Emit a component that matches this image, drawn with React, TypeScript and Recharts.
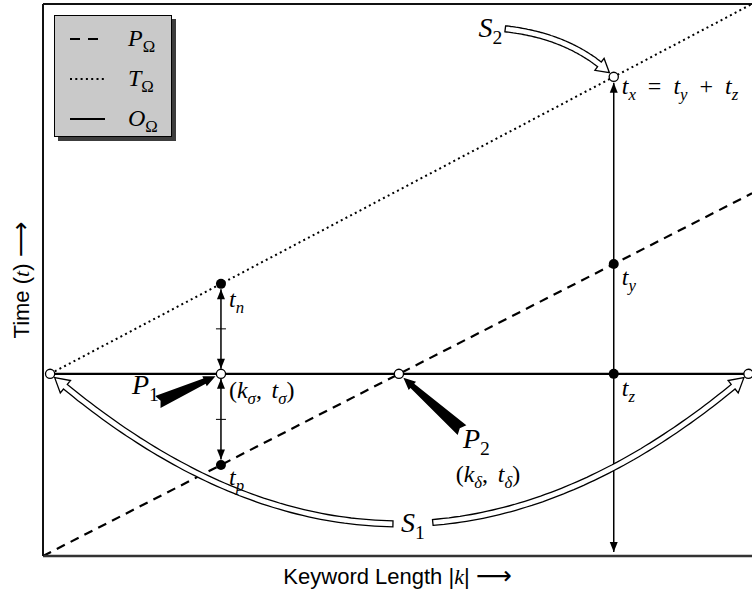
import {
  ComposedChart,
  Line,
  XAxis,
  YAxis,
  ReferenceLine,
  ReferenceDot,
  Legend,
  Label,
} from "recharts";

// chart units: keyword length k and time t both run 0..100
const pK = [0, 100];
const pT = [0, 65.7];
const tK = [1, 100];
const tT = [33, 100];
const oK = [1, 99.5];
const oT = [33, 33];

const legendNames = ["P", "T", "O"];

// k positions of the marked points
const kLeft = 1;
const kSigma = 25.1;
const kDelta = 50.2;
const kX = 80.5;
const kRight = 99.5;

// t values of the marked points
const tSigma = 33;
const tN = 49.3;
const tP = 16.5;
const tX = 86.8;
const tY = 52.9;

// tails of the annotation arrows
const p1Tail = [16.2, 27.9];
const p2Tail = [59.1, 22.8];
const s2Tail = [65.2, 95.5];

const rows = (ks: number[], ts: number[]) => ks.map((k, i) => ({ k, t: ts[i] }));
const pRows = rows(pK, pT);
const tRows = rows(tK, tT);
const oRows = rows(oK, oT);

const styles: Record<string, { dash?: string; legendDash?: string; w: number; len: number }> = {
  P: { dash: "9 6.5", legendDash: "10 8", w: 2.2, len: 30 },
  T: { dash: "2 3.3", legendDash: "2 3.3", w: 2, len: 35 },
  O: { w: 2.2, len: 35 },
};

const SERIF = "'Liberation Serif', 'Times New Roman', serif";
const SANS = "'Liberation Sans', Arial, sans-serif";
const SP = "\u2002";
const THIN = "\u2009";

type Part = { s: string; it?: boolean; sub?: string; subIt?: boolean };

const Tex = ({ x, y, parts, size = 24, anchor = "start" }: any) => {
  const d = size * 0.25;
  let shift = 0;
  const spans: any[] = [];
  (parts as Part[]).forEach((p, i) => {
    spans.push(
      <tspan key={i + "m"} dy={-shift} fontStyle={p.it ? "italic" : "normal"}>
        {p.s}
      </tspan>
    );
    shift = 0;
    if (p.sub) {
      spans.push(
        <tspan key={i + "s"} dy={d} fontSize={size * 0.7} fontStyle={p.subIt === false ? "normal" : "italic"}>
          {p.sub}
        </tspan>
      );
      shift = d;
    }
  });
  return (
    <text x={x} y={y} fontFamily={SERIF} fontSize={size} textAnchor={anchor} fill="#000">
      {spans}
    </text>
  );
};

const head = (tx: number, ty: number, ux: number, uy: number, len: number, half: number) => {
  const bx = tx - ux * len;
  const by = ty - uy * len;
  return `${tx},${ty} ${bx - uy * half},${by + ux * half} ${bx + uy * half},${by - ux * half}`;
};

// straight arrow, heads at both ends, optional tick in the middle
const DimArrow = ({ x1, y1, x2, y2, inset1 = 5, inset2 = 5, tick = false }: any) => {
  const L = Math.hypot(x2 - x1, y2 - y1);
  const ux = (x2 - x1) / L;
  const uy = (y2 - y1) / L;
  const ax = x1 + ux * inset1;
  const ay = y1 + uy * inset1;
  const bx = x2 - ux * inset2;
  const by = y2 - uy * inset2;
  const mx = (x1 + x2) / 2;
  const my = (y1 + y2) / 2;
  return (
    <g>
      <line x1={ax} y1={ay} x2={bx} y2={by} stroke="#000" strokeWidth={1.5} />
      <polygon points={head(bx, by, ux, uy, 10, 4)} fill="#000" />
      <polygon points={head(ax, ay, -ux, -uy, 10, 4)} fill="#000" />
      {tick && (
        <line x1={mx - uy * 5} y1={my + ux * 5} x2={mx + uy * 5} y2={my - ux * 5} stroke="#000" strokeWidth={1} />
      )}
    </g>
  );
};

// black tapered pointer from tail (x1,y1) toward the point (x2,y2)
const Wedge = ({ x1, y1, x2, y2 }: any) => {
  const L = Math.hypot(x2 - x1, y2 - y1);
  const ux = (x2 - x1) / L;
  const uy = (y2 - y1) / L;
  const nx = -uy;
  const ny = ux;
  const len = L - 6;
  const tip = [x1 + ux * len, y1 + uy * len];
  const nk = [x1 + ux * (len - 12), y1 + uy * (len - 12)];
  const pts = [
    [x1 + nx * 6.5, y1 + ny * 6.5],
    [nk[0] + nx * 2.8, nk[1] + ny * 2.8],
    [nk[0] + nx * 5.5, nk[1] + ny * 5.5],
    tip,
    [nk[0] - nx * 5.5, nk[1] - ny * 5.5],
    [nk[0] - nx * 2.8, nk[1] - ny * 2.8],
    [x1 - nx * 6.5, y1 - ny * 6.5],
    [x1 + ux * 3, y1 + uy * 3],
  ];
  return <polygon points={pts.map((p) => p.join(",")).join(" ")} fill="#000" />;
};

type Pt = [number, number];
const quad = (a: Pt, c: Pt, b: Pt, t: number): Pt => [
  (1 - t) * (1 - t) * a[0] + 2 * (1 - t) * t * c[0] + t * t * b[0],
  (1 - t) * (1 - t) * a[1] + 2 * (1 - t) * t * c[1] + t * t * b[1],
];
const sampleQuad = (a: Pt, c: Pt, b: Pt, t0: number, t1: number, n = 80) =>
  Array.from({ length: n + 1 }, (_, i) => quad(a, c, b, t0 + ((t1 - t0) * i) / n));

// outline of a hollow (double line) arrow following pts
function hollow(pts: Pt[], o: { half: number; hl: number; hw: number; trim0: number; trim1: number; h0: boolean; h1: boolean }) {
  const cum = [0];
  for (let i = 1; i < pts.length; i++)
    cum.push(cum[i - 1] + Math.hypot(pts[i][0] - pts[i - 1][0], pts[i][1] - pts[i - 1][1]));
  const total = cum[cum.length - 1];
  const at = (s: number) => {
    let i = 1;
    while (i < pts.length - 1 && cum[i] < s) i++;
    const dx = pts[i][0] - pts[i - 1][0];
    const dy = pts[i][1] - pts[i - 1][1];
    const L = Math.hypot(dx, dy) || 1;
    const f = (s - cum[i - 1]) / L;
    return { x: pts[i - 1][0] + f * dx, y: pts[i - 1][1] + f * dy, ux: dx / L, uy: dy / L };
  };
  const off = (p: any, d: number): Pt => [p.x - p.uy * d, p.y + p.ux * d];
  const tip0 = o.trim0;
  const tip1 = total - o.trim1;
  const s0 = tip0 + (o.h0 ? o.hl : 0);
  const s1 = tip1 - (o.h1 ? o.hl : 0);
  const n = 60;
  const body = Array.from({ length: n + 1 }, (_, i) => at(s0 + ((s1 - s0) * i) / n));
  const out: Pt[] = body.map((p) => off(p, o.half));
  if (o.h1) {
    const e = body[n];
    const t = at(tip1);
    out.push(off(e, o.hw), [t.x, t.y], off(e, -o.hw));
  }
  out.push(...body.map((p) => off(p, -o.half)).reverse());
  if (o.h0) {
    const b = body[0];
    const t = at(tip0);
    out.push(off(b, -o.hw), [t.x, t.y], off(b, o.hw));
  }
  return "M" + out.map((p) => p[0].toFixed(1) + "," + p[1].toFixed(1)).join("L") + "Z";
}

const gap = [0.491, 0.548];

const S1Arrow = ({ x1, y1, x2, y2 }: any) => {
  const a: Pt = [x1, y1];
  const b: Pt = [x2, y2];
  const c: Pt = [(x1 + x2) / 2, y1 + 300];
  const left = hollow(sampleQuad(a, c, b, 0, gap[0]), { half: 3, hl: 14, hw: 8, trim0: 6, trim1: 0, h0: true, h1: false });
  const right = hollow(sampleQuad(a, c, b, gap[1], 1), { half: 3, hl: 14, hw: 8, trim0: 0, trim1: 6, h0: false, h1: true });
  const mid = quad(a, c, b, (gap[0] + gap[1]) / 2);
  return (
    <g>
      <path d={left} fill="#fff" stroke="#000" strokeWidth={1.3} />
      <path d={right} fill="#fff" stroke="#000" strokeWidth={1.3} />
      <Tex x={mid[0]} y={mid[1] + 8} size={28} anchor="middle" parts={[{ s: "S", it: true, sub: "1", subIt: false }]} />
    </g>
  );
};

const S2Arrow = ({ x1, y1, x2, y2 }: any) => {
  const a: Pt = [x1, y1];
  const b: Pt = [x2, y2];
  const c: Pt = [x1 + 0.62 * (x2 - x1), y1 + 0.15 * (y2 - y1)];
  const d = hollow(sampleQuad(a, c, b, 0, 1), { half: 3, hl: 13, hw: 7.5, trim0: 0, trim1: 6, h0: false, h1: true });
  return (
    <g>
      <path d={d} fill="#fff" stroke="#000" strokeWidth={1.3} />
      <Tex x={x1 - 3} y={y1 + 8} size={28} anchor="end" parts={[{ s: "S", it: true, sub: "2", subIt: false }]} />
    </g>
  );
};

const openDot = (label?: (cx: number, cy: number) => any) => (p: any) => (
  <g>
    <circle cx={p.cx} cy={p.cy} r={4.6} fill="#fff" stroke="#000" strokeWidth={1.3} />
    {label && label(p.cx, p.cy)}
  </g>
);
const fullDot = (label?: (cx: number, cy: number) => any) => (p: any) => (
  <g>
    <circle cx={p.cx} cy={p.cy} r={5} fill="#000" />
    {label && label(p.cx, p.cy)}
  </g>
);

const tLabel = (sub: string, dy: number) => (cx: number, cy: number) => (
  <Tex x={cx + 8} y={cy + dy} parts={[{ s: "t", it: true, sub }]} />
);

const LegendBox = () => (
  <div
    style={{
      width: 118,
      height: 122,
      background: "#c9c9c9",
      border: "1px solid #000",
      boxShadow: "4px 4px 0 #3c3c3c",
      boxSizing: "border-box",
    }}
  >
    <svg width={116} height={120} style={{ display: "block" }}>
      {legendNames.map((name, i) => {
        const y = 23 + i * 40;
        const st = styles[name];
        return (
          <g key={name}>
            <line x1={15} x2={15 + st.len} y1={y} y2={y} stroke="#000" strokeWidth={st.w} strokeDasharray={st.legendDash} />
            <Tex x={73} y={y + 7} size={24} parts={[{ s: name, it: true, sub: "Ω", subIt: false }]} />
          </g>
        );
      })}
    </svg>
  </div>
);

const XTitle = ({ viewBox }: any) => (
  <text
    x={viewBox.x + viewBox.width / 2}
    y={viewBox.y + 28}
    textAnchor="middle"
    fontFamily={SANS}
    fontSize={22}
    fill="#000"
  >
    Keyword Length |<tspan fontFamily={SERIF} fontStyle="italic">k</tspan>|{" "}
    <tspan fontFamily="'DejaVu Sans'" fontSize={25}>⟶</tspan>
  </text>
);

const YTitle = ({ viewBox }: any) => {
  const x = viewBox.x + 29;
  const y = viewBox.y + viewBox.height / 2;
  return (
    <text
      x={x}
      y={y}
      transform={`rotate(-90 ${x} ${y})`}
      textAnchor="middle"
      fontFamily={SANS}
      fontSize={22}
      fill="#000"
    >
      Time (<tspan fontFamily={SERIF} fontStyle="italic">t</tspan>){" "}
      <tspan fontFamily="'DejaVu Sans'" fontSize={25}>⟶</tspan>
    </text>
  );
};

const seg = (a: number[], b: number[]) => [
  { x: a[0], y: a[1] },
  { x: b[0], y: b[1] },
];

export default function App() {
  return (
    <div style={{ position: "absolute", left: 0, top: 0, background: "#fff" }}>
      <ComposedChart width={752} height={594} margin={{ top: 4, right: 0, bottom: 0, left: 0 }}>
        <XAxis
          type="number"
          dataKey="k"
          domain={[0, 100]}
          allowDataOverflow
          tick={false}
          tickLine={false}
          height={38}
          axisLine={{ stroke: "#333", strokeWidth: 2.5 }}
        >
          <Label content={(p: any) => <XTitle {...p} />} />
        </XAxis>
        <YAxis
          type="number"
          dataKey="t"
          domain={[0, 100]}
          allowDataOverflow
          tick={false}
          tickLine={false}
          width={43}
          axisLine={{ stroke: "#111", strokeWidth: 2 }}
        >
          <Label content={(p: any) => <YTitle {...p} />} />
        </YAxis>
        <Legend
          layout="vertical"
          align="center"
          verticalAlign="middle"
          wrapperStyle={{ left: 54, top: 15, width: 118, height: 122 }}
          content={() => <LegendBox />}
        />
        <ReferenceLine y={100} stroke="#111" strokeWidth={2} />

        <Line data={pRows} dataKey="t" name="P" stroke="#000" strokeWidth={styles.P.w} strokeDasharray={styles.P.dash} dot={false} activeDot={false} isAnimationActive={false} />
        <Line data={tRows} dataKey="t" name="T" stroke="#000" strokeWidth={styles.T.w} strokeDasharray={styles.T.dash} dot={false} activeDot={false} isAnimationActive={false} />
        <Line data={oRows} dataKey="t" name="O" stroke="#000" strokeWidth={styles.O.w} dot={false} activeDot={false} isAnimationActive={false} />

        {/* measurement arrows */}
        <ReferenceLine ifOverflow="visible" segment={seg([kSigma, tSigma], [kSigma, tN])} shape={(p: any) => <DimArrow {...p} inset1={5} inset2={5.5} tick />} />
        <ReferenceLine ifOverflow="visible" segment={seg([kSigma, tSigma], [kSigma, tP])} shape={(p: any) => <DimArrow {...p} inset1={5} inset2={5.5} tick />} />
        <ReferenceLine ifOverflow="visible" segment={seg([kX, 0], [kX, tX])} shape={(p: any) => <DimArrow {...p} inset1={4} inset2={6} />} />

        {/* pointers */}
        <ReferenceLine ifOverflow="visible" segment={seg(p1Tail, [kSigma, tSigma])} shape={(p: any) => <Wedge {...p} />} />
        <ReferenceLine ifOverflow="visible" segment={seg(p2Tail, [kDelta, tSigma])} shape={(p: any) => <Wedge {...p} />} />
        <ReferenceLine ifOverflow="visible" segment={seg([kLeft, tSigma], [kRight, tSigma])} shape={(p: any) => <S1Arrow {...p} />} />
        <ReferenceLine ifOverflow="visible" segment={seg(s2Tail, [kX, tX])} shape={(p: any) => <S2Arrow {...p} />} />

        {/* points */}
        <ReferenceDot ifOverflow="visible" x={kLeft} y={tSigma} shape={openDot()} />
        <ReferenceDot ifOverflow="visible" x={kRight} y={tSigma} shape={openDot()} />
        <ReferenceDot
          ifOverflow="visible"
          x={kSigma}
          y={tSigma}
          shape={openDot((cx, cy) => (
            <g>
              <Tex x={cx + 8} y={cy + 24} parts={[{ s: "(" }, { s: "k", it: true, sub: "σ" }, { s: "," + THIN + THIN }, { s: "t", it: true, sub: "σ" }, { s: ")" }]} />
              <Tex x={cx - 89} y={cy + 20} size={28} parts={[{ s: "P", it: true, sub: "1", subIt: false }]} />
            </g>
          ))}
        />
        <ReferenceDot
          ifOverflow="visible"
          x={kDelta}
          y={tSigma}
          shape={openDot((cx, cy) => (
            <g>
              <Tex x={cx + 64} y={cy + 74} size={28} parts={[{ s: "P", it: true, sub: "2", subIt: false }]} />
              <Tex x={cx + 89} y={cy + 108} anchor="middle" parts={[{ s: "(" }, { s: "k", it: true, sub: "δ" }, { s: "," + THIN + THIN }, { s: "t", it: true, sub: "δ" }, { s: ")" }]} />
            </g>
          ))}
        />
        <ReferenceDot
          ifOverflow="visible"
          x={kX}
          y={tX}
          shape={openDot((cx, cy) => (
            <Tex
              x={cx + 8}
              y={cy + 17}
              parts={[{ s: "t", it: true, sub: "x" }, { s: SP + "=" + SP }, { s: "t", it: true, sub: "y" }, { s: SP + "+" + SP }, { s: "t", it: true, sub: "z" }]}
            />
          ))}
        />
        <ReferenceDot ifOverflow="visible" x={kSigma} y={tN} shape={fullDot(tLabel("n", 23))} />
        <ReferenceDot ifOverflow="visible" x={kSigma} y={tP} shape={fullDot(tLabel("p", 20))} />
        <ReferenceDot ifOverflow="visible" x={kX} y={tY} shape={fullDot(tLabel("y", 21))} />
        <ReferenceDot ifOverflow="visible" x={kX} y={tSigma} shape={fullDot(tLabel("z", 22))} />
      </ComposedChart>
    </div>
  );
}
